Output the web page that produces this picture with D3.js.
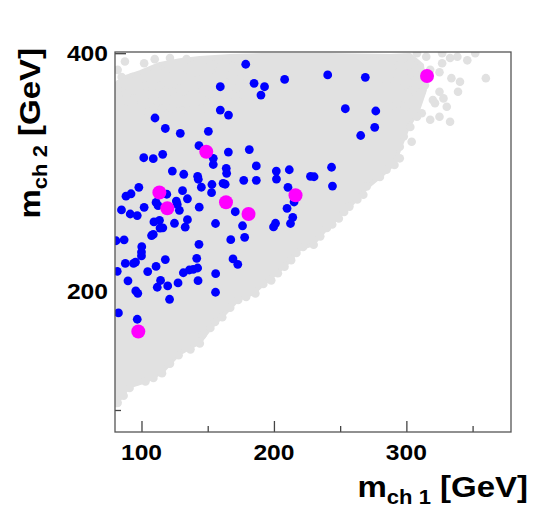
<!DOCTYPE html>
<html><head><meta charset="utf-8">
<script src="https://cdn.jsdelivr.net/npm/d3@7"></script>
<style>
body{margin:0;background:#fff}
text{font-family:"Liberation Sans",Arial,Helvetica,sans-serif;font-weight:bold;fill:#000}
</style>
</head><body>
<svg id="c" width="533" height="512"></svg>
<script>
// ---- axis setup ----
const xDomain = [80, 379];
const yDomain = [81.5, 401];
const xMajorTicks = [100, 200, 300];
const xMinorTicks = [150, 250, 350];
const yMajorTicks = [200, 400];
const yMinorTicks = [100, 300];
const xTickLabels = ["100", "200", "300"];
const yTickLabels = ["200", "400"];
const xTitle = ["m", "ch 1", " [GeV]"];
const yTitle = ["m", "ch 2", " [GeV]"];

// ---- data: [m_ch1, m_ch2] ----
const magentaPoints = [[315.6,380.8],[148.9,317.1],[113.5,282.9],[119.5,269.6],[163.8,274.7],[180.8,264.8],[216.3,280.5],[97.6,166.0]];

const bluePoints = [[178.7,390.7],[240.6,381.7],[269.0,379.7],[159.5,371.8],[185.0,374.7],[192.9,371.8],[190.2,364.8],[208.1,377.9],[159.5,352.2],[165.7,348.0],[253.9,353.3],[276.9,351.4],[276.1,337.7],[265.5,330.8],[110.2,345.5],[118.0,336.7],[129.3,332.6],[150.5,334.3],[143.4,322.2],[165.6,316.9],[181.4,319.0],[101.7,312.1],[108.9,311.3],[116.0,315.0],[154.2,311.6],[154.2,306.4],[123.3,300.9],[131.9,298.2],[142.4,296.5],[142.9,294.0],[164.3,299.0],[164.0,303.2],[186.7,305.2],[177.2,293.1],[186.7,293.1],[201.8,300.9],[201.9,294.2],[211.6,302.0],[227.6,296.5],[230.3,296.1],[243.5,304.1],[244.2,288.3],[210.6,287.2],[215.2,274.9],[209.9,269.6],[214.2,262.0],[212.5,256.8],[201.2,257.0],[199.7,253.9],[170.8,266.7],[176.3,254.9],[177.9,245.2],[167.4,243.2],[155.9,256.8],[143.6,270.5],[143.4,239.3],[141.7,227.5],[169.1,227.0],[172.7,222.5],[156.0,214.6],[142.4,219.4],[139.1,218.3],[136.1,217.7],[131.6,215.4],[142.7,208.7],[155.9,199.0],[127.6,206.8],[119.8,204.3],[114.4,208.9],[111.9,203.2],[121.2,193.1],[118.0,226.5],[111.0,220.7],[104.7,216.4],[89.8,208.6],[95.7,200.1],[97.2,198.1],[87.8,223.2],[94.0,223.2],[95.5,224.4],[81.7,216.6],[80.8,242.3],[86.9,243.1],[100.2,237.3],[100.0,232.8],[100.0,229.5],[107.6,246.7],[108.9,247.6],[109.4,258.1],[113.6,259.5],[116.1,253.2],[114.0,253.0],[124.9,257.0],[133.0,253.7],[134.7,260.0],[128.6,267.9],[126.3,275.7],[127.0,272.8],[134.7,277.6],[131.0,284.4],[111.0,274.5],[112.5,271.8],[119.1,281.4],[102.0,270.4],[98.0,287.2],[92.1,281.8],[88.3,279.8],[84.9,268.2],[91.5,264.8],[96.8,263.5],[82.6,181.6],[96.8,176.3],[145.2,287.3],[152.9,282.7],[153.2,289.6],[161.6,290.6],[163.2,289.8]];

// dense part of the grey background cloud (outline)
const cloudOutline = [[80,370.7],[85.3,379],[99,384],[114,391],[129,394],[144,396],[167,397.6],[191,398.5],[205,398.5],[242,398.5],[288,397.6],[302.8,398.5],[311.8,390],[314,369],[308.8,352],[301,337],[295,320],[291,307.7],[282,298],[270,287],[257,271],[240,253],[229,239],[220,236],[208,221],[192,206],[184,198],[173,193],[161,179],[152,169],[144,157],[128,147],[115.5,132],[103,124],[91,120],[85,112],[81,104],[80,104]];

// individual grey points at the edges / sparse regions
const grayPoints = [[270,288],[267.5,281],[263,277],[257,271],[253,266.5],[249,261],[244,256],[240,253],[235,246],[230,239],[222,237],[217,232],[213,226],[208,220.5],[203,215],[198,209],[192,206],[186,198],[179,195],[173,192.5],[167,186],[161,178],[155.5,174],[152,169],[146,163],[144,156],[137,151],[128,146],[121.5,139],[115.5,131],[109,127],[103,124],[96,124],[91,118.5],[86.5,112],[82,106],
[291,394],[298,396],[295,390],[291,383],[285,377.5],[308,400],[315,397],[327,400],[327,391.5],[325,384],[333,396],[338.5,397],[346,394],[352,400],[304,384],[301.5,375],[308,366],[305,369],[311.6,367.6],[314,373],[299,373],[334,379],[340.5,376],[360,379],[339,367.6],[325,367.6],[320,360.6],[321.6,358],[328,362],[330.5,355],[325,346.6],[333,342.4],[318,344],[311.6,349.5],[308,346.6],[303,338],[298,330],[304,325.6],[295,321.4],[295,311.6],[291,306],[285,302],[280,296],[318,386],[311.6,381.7],[299,355],[293,358],[290,349.5],
[121.5,396],[134,395],[146,393],[154.5,390],[164.6,394],[173,390],[102,391.5],[118.5,385],[85,380],[93,380],[96,377.5],[103,373],[108.5,372.7],[130.6,381.7],[143,378],[157,381.7],[167,381],[176,381.7],[83,365],[89,366],[95,362],[104,365],[112,359],[115.5,353.7],[128,370.5],[132,367.6],[138,365],[146,369],[151,365],[171,370.5],[176,365],[85,353.7],[93,356],[100,356],[105,351],[123,353.7],[130.6,352],[138,358],[146,353.7],[153,359],[164.6,363.4],[82,386],[110,395],[87.5,393],[182,393],[180.5,377.5],[159,373],[114,373],[123,367.5],[83,374]];

// ---- drawing ----
const L = 115, R = 511, T = 52, B = 432;
const svg = d3.select("#c");
const x = d3.scaleLinear().domain(xDomain).range([L, R]);
const y = d3.scaleLinear().domain(yDomain).range([B, T]);

svg.append("defs").append("clipPath").attr("id", "clip")
  .append("rect").attr("x", L).attr("y", T).attr("width", R - L).attr("height", B - T);

// ticks (drawn under the points)
function tickAxis(axis, tf, len) {
  const g = svg.append("g").attr("transform", tf).call(axis.tickSize(len).tickFormat(""));
  g.select(".domain").remove();
  g.selectAll("line").attr("stroke", "#444").attr("stroke-width", 1.3);
}
tickAxis(d3.axisBottom(x).tickValues(xMajorTicks), `translate(0,${B})`, -11);
tickAxis(d3.axisBottom(x).tickValues(xMinorTicks), `translate(0,${B})`, -6);
tickAxis(d3.axisLeft(y).tickValues(yMajorTicks), `translate(${L},0)`, -11);
tickAxis(d3.axisLeft(y).tickValues(yMinorTicks), `translate(${L},0)`, -6);

const plot = svg.append("g").attr("clip-path", "url(#clip)");
const grey = "#e1e1e1";
plot.append("path")
  .attr("d", d3.line().x(d => x(d[0])).y(d => y(d[1]))(cloudOutline) + "Z")
  .attr("fill", grey).attr("stroke", grey).attr("stroke-width", 4).attr("stroke-linejoin", "round");
plot.selectAll("circle.g").data(grayPoints).join("circle").attr("class", "g")
  .attr("cx", d => x(d[0])).attr("cy", d => y(d[1])).attr("r", 4.3).attr("fill", grey);
plot.selectAll("circle.b").data(bluePoints).join("circle").attr("class", "b")
  .attr("cx", d => x(d[0])).attr("cy", d => y(d[1])).attr("r", 4.4).attr("fill", "#0000ff");
plot.selectAll("circle.m").data(magentaPoints).join("circle").attr("class", "m")
  .attr("cx", d => x(d[0])).attr("cy", d => y(d[1])).attr("r", 7).attr("fill", "#ff00ff");

// frame
svg.append("rect").attr("x", L).attr("y", T).attr("width", R - L).attr("height", B - T)
  .attr("fill", "none").attr("stroke", "#555").attr("stroke-width", 1.3);

// tick labels
xMajorTicks.forEach((v, i) => {
  svg.append("text").attr("transform", `translate(${x(v)},460) scale(1.12,1)`)
    .attr("text-anchor", "middle").attr("font-size", 22).text(xTickLabels[i]);
});
yMajorTicks.forEach((v, i) => {
  svg.append("text").attr("transform", `translate(108,${y(v) + 8}) scale(1.12,1)`)
    .attr("text-anchor", "end").attr("font-size", 22).text(yTickLabels[i]);
});

// axis titles
function title(parts, tf) {
  const t = svg.append("text").attr("transform", tf).attr("text-anchor", "end").attr("font-size", 30);
  t.append("tspan").text(parts[0]);
  t.append("tspan").attr("font-size", 20).attr("dy", 7).text(parts[1]);
  t.append("tspan").attr("dy", -7).attr("font-size", 30).text(parts[2]);
}
title(xTitle, "translate(528,497) scale(1.1,1)");
title(yTitle, "translate(40,48) rotate(-90) scale(1.1,1)");
</script>
</body></html>
